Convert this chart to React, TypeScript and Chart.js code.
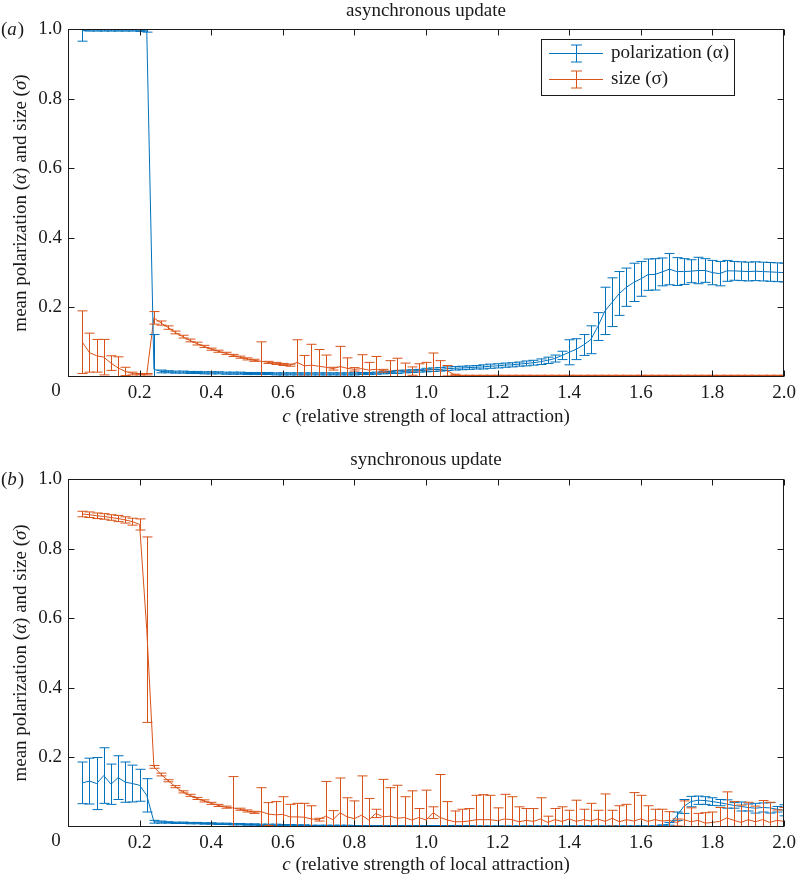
import React, { useEffect, useRef } from 'react';
import { Chart, registerables } from 'chart.js';

Chart.register(...registerables);

const FONT = "'Liberation Serif', 'Times New Roman', Times, serif";
const BLUE = '#0072BD';
const ORANGE = '#D95319';
const INK = '#1a1a1a';

// c values (relative strength of local attraction)
const C_VALUES = [
  0.04, 0.06, 0.08, 0.10, 0.12, 0.14, 0.16, 0.18, 0.20, 0.22,
  0.24, 0.26, 0.28, 0.30, 0.32, 0.34, 0.36, 0.38, 0.40, 0.42,
  0.44, 0.46, 0.48, 0.50, 0.52, 0.54, 0.56, 0.58, 0.60, 0.62,
  0.64, 0.66, 0.68, 0.70, 0.72, 0.74, 0.76, 0.78, 0.80, 0.82,
  0.84, 0.86, 0.88, 0.90, 0.92, 0.94, 0.96, 0.98, 1.00, 1.02,
  1.04, 1.06, 1.08, 1.10, 1.12, 1.14, 1.16, 1.18, 1.20, 1.22,
  1.24, 1.26, 1.28, 1.30, 1.32, 1.34, 1.36, 1.38, 1.40, 1.42,
  1.44, 1.46, 1.48, 1.50, 1.52, 1.54, 1.56, 1.58, 1.60, 1.62,
  1.64, 1.66, 1.68, 1.70, 1.72, 1.74, 1.76, 1.78, 1.80, 1.82,
  1.84, 1.86, 1.88, 1.90, 1.92, 1.94, 1.96, 1.98, 2.00,
];

const X_TICKS = [0, 0.2, 0.4, 0.6, 0.8, 1.0, 1.2, 1.4, 1.6, 1.8, 2.0];
const Y_TICKS = [0.2, 0.4, 0.6, 0.8, 1.0];

// (a) asynchronous update
const ASYNC_POL = [
  0.995, 0.997, 0.997, 0.997, 0.997, 0.997, 0.997, 0.997, 0.996, 0.995,
  0.022, 0.016, 0.015, 0.014, 0.014, 0.013, 0.013, 0.012, 0.012, 0.012,
  0.011, 0.011, 0.011, 0.010, 0.010, 0.010, 0.010, 0.009, 0.009, 0.009,
  0.009, 0.009, 0.009, 0.009, 0.009, 0.009, 0.009, 0.009, 0.009, 0.010,
  0.010, 0.011, 0.012, 0.013, 0.014, 0.016, 0.017, 0.018, 0.020, 0.021,
  0.022, 0.024, 0.025, 0.026, 0.027, 0.028, 0.029, 0.031, 0.032, 0.034,
  0.035, 0.037, 0.039, 0.041, 0.044, 0.048, 0.053, 0.062, 0.071, 0.080,
  0.092, 0.107, 0.145, 0.190, 0.215, 0.240, 0.258, 0.272, 0.282, 0.294,
  0.295, 0.302, 0.310, 0.303, 0.303, 0.304, 0.306, 0.306, 0.300, 0.297,
  0.305, 0.305, 0.304, 0.303, 0.304, 0.303, 0.302, 0.301, 0.300,
];
const ASYNC_POL_ERR = [
  0.030, 0.003, 0.003, 0.003, 0.003, 0.003, 0.003, 0.003, 0.003, 0.004,
  0.100, 0.004, 0.003, 0.003, 0.003, 0.003, 0.003, 0.003, 0.003, 0.003,
  0.003, 0.003, 0.003, 0.003, 0.003, 0.003, 0.003, 0.003, 0.003, 0.003,
  0.003, 0.003, 0.003, 0.003, 0.003, 0.003, 0.003, 0.003, 0.003, 0.003,
  0.003, 0.003, 0.003, 0.003, 0.004, 0.004, 0.004, 0.004, 0.005, 0.005,
  0.005, 0.005, 0.005, 0.005, 0.005, 0.005, 0.006, 0.006, 0.006, 0.006,
  0.006, 0.006, 0.007, 0.007, 0.008, 0.009, 0.010, 0.012, 0.036, 0.030,
  0.030, 0.040, 0.040, 0.068, 0.070, 0.063, 0.055, 0.055, 0.050, 0.045,
  0.045, 0.040, 0.045, 0.040, 0.037, 0.033, 0.038, 0.034, 0.035, 0.035,
  0.030, 0.027, 0.027, 0.027, 0.027, 0.027, 0.027, 0.027, 0.027,
];
const ASYNC_SIZE = [
  0.100, 0.070, 0.061, 0.057, 0.040, 0.026, 0.016, 0.010, 0.008, 0.008,
  0.170, 0.155, 0.142, 0.128, 0.116, 0.105, 0.096, 0.088, 0.080, 0.074,
  0.068, 0.062, 0.057, 0.052, 0.048, 0.045, 0.042, 0.039, 0.036, 0.034,
  0.042, 0.032, 0.034, 0.031, 0.028, 0.024, 0.030, 0.025, 0.022, 0.024,
  0.020, 0.022, 0.018, 0.017, 0.020, 0.018, 0.017, 0.018, 0.020, 0.022,
  0.020, 0.018, 0.006, 0.004, 0.004, 0.004, 0.004, 0.004, 0.004, 0.004,
  0.004, 0.004, 0.004, 0.004, 0.004, 0.004, 0.004, 0.004, 0.004, 0.004,
  0.004, 0.004, 0.004, 0.004, 0.004, 0.004, 0.004, 0.004, 0.004, 0.004,
  0.004, 0.004, 0.004, 0.004, 0.004, 0.004, 0.004, 0.004, 0.004, 0.004,
  0.004, 0.004, 0.004, 0.004, 0.004, 0.004, 0.004, 0.004, 0.004,
];
const ASYNC_SIZE_ERR = [
  0.090, 0.056, 0.047, 0.051, 0.021, 0.032, 0.012, 0.004, 0.002, 0.002,
  0.018, 0.006, 0.005, 0.004, 0.004, 0.004, 0.004, 0.003, 0.003, 0.003,
  0.003, 0.003, 0.003, 0.003, 0.003, 0.056, 0.003, 0.003, 0.003, 0.003,
  0.065, 0.030, 0.060, 0.048, 0.035, 0.004, 0.058, 0.030, 0.005, 0.040,
  0.022, 0.037, 0.004, 0.030, 0.034, 0.022, 0.012, 0.020, 0.022, 0.047,
  0.027, 0.015, 0.002, 0.001, 0.001, 0.001, 0.001, 0.001, 0.001, 0.001,
  0.001, 0.001, 0.001, 0.001, 0.001, 0.001, 0.001, 0.001, 0.001, 0.001,
  0.001, 0.001, 0.001, 0.001, 0.001, 0.001, 0.001, 0.001, 0.001, 0.001,
  0.001, 0.001, 0.001, 0.001, 0.001, 0.001, 0.001, 0.001, 0.001, 0.001,
  0.001, 0.001, 0.001, 0.001, 0.001, 0.001, 0.001, 0.001, 0.001,
];

// (b) synchronous update
const SYNC_POL = [
  0.126, 0.131, 0.124, 0.147, 0.122, 0.141, 0.128, 0.124, 0.119, 0.090,
  0.014, 0.013, 0.012, 0.011, 0.011, 0.010, 0.010, 0.009, 0.009, 0.008,
  0.008, 0.007, 0.007, 0.006, 0.006, 0.005, 0.005, 0.005, 0.004, 0.004,
  0.004, 0.004, 0.003, 0.003, 0.003, 0.003, 0.003, 0.003, 0.002, 0.002,
  0.002, 0.002, 0.002, 0.002, 0.002, 0.002, 0.002, 0.002, 0.002, 0.002,
  0.002, 0.002, 0.002, 0.002, 0.002, 0.001, 0.001, 0.001, 0.001, 0.001,
  0.001, 0.001, 0.001, 0.001, 0.001, 0.001, 0.001, 0.001, 0.001, 0.001,
  0.001, 0.001, 0.001, 0.001, 0.001, 0.001, 0.001, 0.001, 0.001, 0.001,
  0.001, 0.003, 0.008, 0.030, 0.058, 0.072, 0.076, 0.075, 0.072, 0.069,
  0.065, 0.061, 0.058, 0.055, 0.053, 0.055, 0.054, 0.050, 0.047,
];
const SYNC_POL_ERR = [
  0.060, 0.066, 0.075, 0.080, 0.058, 0.063, 0.058, 0.053, 0.046, 0.048,
  0.004, 0.003, 0.002, 0.002, 0.002, 0.002, 0.002, 0.002, 0.002, 0.002,
  0.002, 0.002, 0.002, 0.002, 0.002, 0.002, 0.002, 0.002, 0.002, 0.002,
  0.001, 0.001, 0.001, 0.001, 0.001, 0.001, 0.001, 0.001, 0.001, 0.001,
  0.001, 0.001, 0.001, 0.001, 0.001, 0.001, 0.001, 0.001, 0.001, 0.001,
  0.001, 0.001, 0.001, 0.001, 0.001, 0.001, 0.001, 0.001, 0.001, 0.001,
  0.001, 0.001, 0.001, 0.001, 0.001, 0.001, 0.001, 0.001, 0.001, 0.001,
  0.001, 0.001, 0.001, 0.001, 0.001, 0.001, 0.001, 0.001, 0.001, 0.001,
  0.001, 0.002, 0.004, 0.012, 0.020, 0.015, 0.012, 0.011, 0.011, 0.009,
  0.012, 0.008, 0.013, 0.010, 0.014, 0.013, 0.015, 0.008, 0.016,
];
const SYNC_SIZE = [
  0.900, 0.898, 0.895, 0.893, 0.890, 0.887, 0.883, 0.878, 0.870, 0.567,
  0.172, 0.150, 0.132, 0.115, 0.100, 0.090, 0.081, 0.074, 0.067, 0.061,
  0.056, 0.054, 0.050, 0.045, 0.041, 0.043, 0.036, 0.034, 0.035, 0.028,
  0.028, 0.027, 0.022, 0.020, 0.030, 0.020, 0.040, 0.028, 0.023, 0.033,
  0.019, 0.038, 0.028, 0.030, 0.024, 0.026, 0.019, 0.026, 0.019, 0.040,
  0.026, 0.019, 0.014, 0.014, 0.016, 0.020, 0.020, 0.020, 0.017, 0.022,
  0.020, 0.014, 0.018, 0.015, 0.022, 0.012, 0.020, 0.015, 0.022, 0.015,
  0.020, 0.016, 0.022, 0.015, 0.024, 0.014, 0.020, 0.016, 0.022, 0.015,
  0.020, 0.016, 0.018, 0.012, 0.020, 0.014, 0.018, 0.010, 0.012, 0.015,
  0.025, 0.018, 0.012, 0.020, 0.014, 0.020, 0.012, 0.018, 0.015,
];
const SYNC_SIZE_ERR = [
  0.008, 0.008, 0.008, 0.008, 0.008, 0.009, 0.009, 0.010, 0.016, 0.267,
  0.004, 0.004, 0.003, 0.003, 0.003, 0.003, 0.003, 0.003, 0.003, 0.003,
  0.003, 0.090, 0.003, 0.003, 0.003, 0.069, 0.033, 0.038, 0.051, 0.036,
  0.039, 0.040, 0.038, 0.004, 0.100, 0.026, 0.100, 0.055, 0.051, 0.113,
  0.062, 0.012, 0.108, 0.082, 0.095, 0.060, 0.084, 0.026, 0.086, 0.017,
  0.124, 0.053, 0.031, 0.036, 0.036, 0.070, 0.072, 0.070, 0.037, 0.071,
  0.066, 0.043, 0.034, 0.037, 0.061, 0.018, 0.032, 0.042, 0.025, 0.061,
  0.030, 0.051, 0.025, 0.079, 0.023, 0.046, 0.044, 0.082, 0.068, 0.045,
  0.030, 0.034, 0.025, 0.010, 0.054, 0.040, 0.020, 0.030, 0.030, 0.040,
  0.075, 0.054, 0.050, 0.050, 0.045, 0.055, 0.058, 0.030, 0.040,
];

const X_TITLE = [
  { text: 'c', italic: true },
  { text: ' (relative strength of local attraction)', italic: false },
];
const Y_TITLE = [
  { text: 'mean polarization (', italic: false },
  { text: 'α', italic: true },
  { text: ') and size (', italic: false },
  { text: 'σ', italic: true },
  { text: ')', italic: false },
];

const toPoints = (xs: number[], ys: number[]) => xs.map((x, i) => ({ x, y: ys[i] }));

const CAP = 5;
const TICK_LEN = 6;
const FS = 19;

function drawRich(ctx: CanvasRenderingContext2D, segs: { text: string; italic: boolean }[], cx: number, cy: number) {
  const fontFor = (it: boolean) => `${it ? 'italic ' : ''}${FS}px ${FONT}`;
  let total = 0;
  const widths = segs.map((s) => {
    ctx.font = fontFor(s.italic);
    const w = ctx.measureText(s.text).width;
    total += w;
    return w;
  });
  let x = cx - total / 2;
  ctx.textAlign = 'left';
  ctx.textBaseline = 'middle';
  segs.forEach((s, i) => {
    ctx.font = fontFor(s.italic);
    ctx.fillText(s.text, x, cy);
    x += widths[i];
  });
}

const errorBarPlugin = {
  id: 'errorBars',
  afterDatasetsDraw(chart: any) {
    const { ctx, chartArea: a, scales } = chart;
    const xs = scales.x;
    const ys = scales.y;
    ctx.save();
    ctx.beginPath();
    ctx.rect(a.left, a.top, a.right - a.left, a.bottom - a.top);
    ctx.clip();
    chart.data.datasets.forEach((ds: any) => {
      const errs: number[] = ds.errors;
      if (!errs) return;
      ctx.strokeStyle = ds.borderColor;
      ctx.lineWidth = 1;
      ds.data.forEach((p: any, i: number) => {
        const px = Math.round(xs.getPixelForValue(p.x)) + 0.5;
        const yt = ys.getPixelForValue(p.y + errs[i]);
        const yb = ys.getPixelForValue(p.y - errs[i]);
        ctx.beginPath();
        ctx.moveTo(px, yt);
        ctx.lineTo(px, yb);
        ctx.moveTo(px - CAP, yt);
        ctx.lineTo(px + CAP, yt);
        ctx.moveTo(px - CAP, yb);
        ctx.lineTo(px + CAP, yb);
        ctx.stroke();
      });
    });
    ctx.restore();
  },
};

const framePlugin = {
  id: 'frame',
  afterDraw(chart: any, _args: any, opts: any) {
    const { ctx, chartArea: a, scales } = chart;
    const xs = scales.x;
    const ys = scales.y;
    const L = Math.round(a.left) + 0.5;
    const R = Math.round(a.right) - 0.5;
    const T = Math.round(a.top) + 0.5;
    const B = Math.round(a.bottom) - 0.5;
    ctx.save();
    ctx.strokeStyle = INK;
    ctx.lineWidth = 1;
    ctx.strokeRect(L, T, R - L, B - T);
    ctx.beginPath();
    X_TICKS.forEach((v) => {
      const px = Math.round(xs.getPixelForValue(v)) + 0.5;
      ctx.moveTo(px, B);
      ctx.lineTo(px, B - TICK_LEN);
      ctx.moveTo(px, T);
      ctx.lineTo(px, T + TICK_LEN);
    });
    Y_TICKS.forEach((v) => {
      const py = Math.round(ys.getPixelForValue(v)) + 0.5;
      ctx.moveTo(L, py);
      ctx.lineTo(L + TICK_LEN, py);
      ctx.moveTo(R, py);
      ctx.lineTo(R - TICK_LEN, py);
    });
    ctx.stroke();

    ctx.fillStyle = INK;
    ctx.font = `${FS}px ${FONT}`;
    ctx.textAlign = 'center';
    ctx.textBaseline = 'top';
    ctx.fillText('0', a.left - 12, a.bottom + 5);

    // axis titles (with italic symbols)
    drawRich(ctx, X_TITLE, (a.left + a.right) / 2, chart.height - 11.4 - opts.xTitlePad);
    ctx.save();
    ctx.translate(21, (a.top + a.bottom) / 2);
    ctx.rotate(-Math.PI / 2);
    drawRich(ctx, Y_TITLE, 0, 0);
    ctx.restore();

    // panel letter "(a)" / "(b)"
    ctx.textAlign = 'left';
    ctx.textBaseline = 'middle';
    let x = 1;
    const y = a.top + 1;
    ctx.font = `${FS}px ${FONT}`;
    ctx.fillText('(', x, y);
    x += ctx.measureText('(').width;
    ctx.font = `italic ${FS}px ${FONT}`;
    ctx.fillText(opts.letter, x, y);
    x += ctx.measureText(opts.letter).width + 1;
    ctx.font = `${FS}px ${FONT}`;
    ctx.fillText(')', x, y);
    ctx.restore();
  },
};

const legendPlugin = {
  id: 'errLegend',
  afterDraw(chart: any, _args: any, opts: any) {
    if (!opts.show) return;
    const { ctx, chartArea: a } = chart;
    const w = 193;
    const h = 56;
    const right = Math.round(a.right) - 50;
    const top = Math.round(a.top) + 10;
    const left = right - w;
    ctx.save();
    ctx.fillStyle = '#ffffff';
    ctx.fillRect(left, top, w, h);
    ctx.strokeStyle = INK;
    ctx.lineWidth = 1;
    ctx.strokeRect(left + 0.5, top + 0.5, w, h);
    chart.data.datasets.forEach((ds: any, i: number) => {
      const cy = top + 14 + i * 26 + 0.5;
      const ex = left + 35.5;
      ctx.strokeStyle = ds.borderColor;
      ctx.beginPath();
      ctx.moveTo(left + 8, cy);
      ctx.lineTo(left + 62, cy);
      ctx.moveTo(ex, cy - 8.5);
      ctx.lineTo(ex, cy + 8.5);
      ctx.moveTo(ex - 5.5, cy - 8.5);
      ctx.lineTo(ex + 5.5, cy - 8.5);
      ctx.moveTo(ex - 5.5, cy + 8.5);
      ctx.lineTo(ex + 5.5, cy + 8.5);
      ctx.stroke();
      ctx.fillStyle = INK;
      ctx.font = `${FS}px ${FONT}`;
      ctx.textAlign = 'left';
      ctx.textBaseline = 'middle';
      ctx.fillText(ds.label, left + 70, cy);
    });
    ctx.restore();
  },
};

type PanelSpec = {
  title: string;
  letter: string;
  pol: number[];
  polErr: number[];
  size: number[];
  sizeErr: number[];
  legend: boolean;
  titlePad: { top: number; bottom: number };
  xHeight: number;
  xTitlePad: number;
};

function makeConfig(p: PanelSpec): any {
  const font = { family: FONT, size: FS, weight: 'normal' as const };
  return {
    type: 'line',
    data: {
      datasets: [
        {
          label: 'polarization (α)',
          data: toPoints(C_VALUES, p.pol),
          errors: p.polErr,
          borderColor: BLUE,
          backgroundColor: BLUE,
          borderWidth: 1,
          pointRadius: 0,
          tension: 0,
          fill: false,
        },
        {
          label: 'size (σ)',
          data: toPoints(C_VALUES, p.size),
          errors: p.sizeErr,
          borderColor: ORANGE,
          backgroundColor: ORANGE,
          borderWidth: 1,
          pointRadius: 0,
          tension: 0,
          fill: false,
        },
      ],
    },
    options: {
      responsive: false,
      animation: false,
      devicePixelRatio: 1,
      events: [],
      layout: { padding: { left: 0, right: 12, top: 0, bottom: 0 } },
      plugins: {
        legend: { display: false },
        tooltip: { enabled: false },
        title: {
          display: true,
          text: p.title,
          fullSize: false,
          color: INK,
          font,
          padding: p.titlePad,
        },
        frame: { letter: p.letter, xTitlePad: p.xTitlePad },
        errLegend: { show: p.legend },
      },
      scales: {
        x: {
          type: 'linear',
          min: 0,
          max: 2,
          afterBuildTicks: (s: any) => {
            s.ticks = X_TICKS.map((v) => ({ value: v }));
          },
          afterFit: (s: any) => {
            s.height = p.xHeight;
            s.paddingLeft = 0;
            s.paddingRight = 0;
          },
          grid: { display: false, drawTicks: false },
          border: { display: false },
          ticks: {
            autoSkip: false,
            maxRotation: 0,
            padding: 5,
            color: INK,
            font,
            callback: (v: any) => (Number(v) === 0 ? '' : Number(v).toFixed(1)),
          },
          title: { display: false },
        },
        y: {
          type: 'linear',
          min: 0,
          max: 1,
          afterBuildTicks: (s: any) => {
            s.ticks = Y_TICKS.map((v) => ({ value: v }));
          },
          afterFit: (s: any) => {
            s.width = 68;
            s.paddingTop = 0;
            s.paddingBottom = 0;
          },
          grid: { display: false, drawTicks: false },
          border: { display: false },
          ticks: {
            padding: 6,
            color: INK,
            font,
            callback: (v: any) => Number(v).toFixed(1),
          },
          title: { display: false },
        },
      },
    },
    plugins: [errorBarPlugin, framePlugin, legendPlugin],
  };
}

function Panel({ spec, height }: { spec: PanelSpec; height: number }) {
  const ref = useRef<HTMLCanvasElement>(null);
  useEffect(() => {
    if (!ref.current) return;
    const chart = new Chart(ref.current, makeConfig(spec));
    return () => chart.destroy();
  }, [spec, height]);
  return (
    <canvas
      ref={ref}
      width={796}
      height={height}
      style={{ display: 'block', width: 796, height }}
    />
  );
}

const PANEL_A: PanelSpec = {
  title: 'asynchronous update',
  letter: 'a',
  pol: ASYNC_POL,
  polErr: ASYNC_POL_ERR,
  size: ASYNC_SIZE,
  sizeErr: ASYNC_SIZE_ERR,
  legend: true,
  titlePad: { top: 0, bottom: 6.2 },
  xHeight: 53,
  xTitlePad: 1.6,
};

const PANEL_B: PanelSpec = {
  title: 'synchronous update',
  letter: 'b',
  pol: SYNC_POL,
  polErr: SYNC_POL_ERR,
  size: SYNC_SIZE,
  sizeErr: SYNC_SIZE_ERR,
  legend: false,
  titlePad: { top: 18.6, bottom: 7.9 },
  xHeight: 49.4,
  xTitlePad: 0,
};

export default function App() {
  return (
    <div
      style={{
        position: 'absolute',
        left: 0,
        top: 0,
        width: 796,
        height: 876,
        background: '#ffffff',
        overflow: 'hidden',
      }}
    >
      <Panel spec={PANEL_A} height={430} />
      <Panel spec={PANEL_B} height={446} />
    </div>
  );
}
